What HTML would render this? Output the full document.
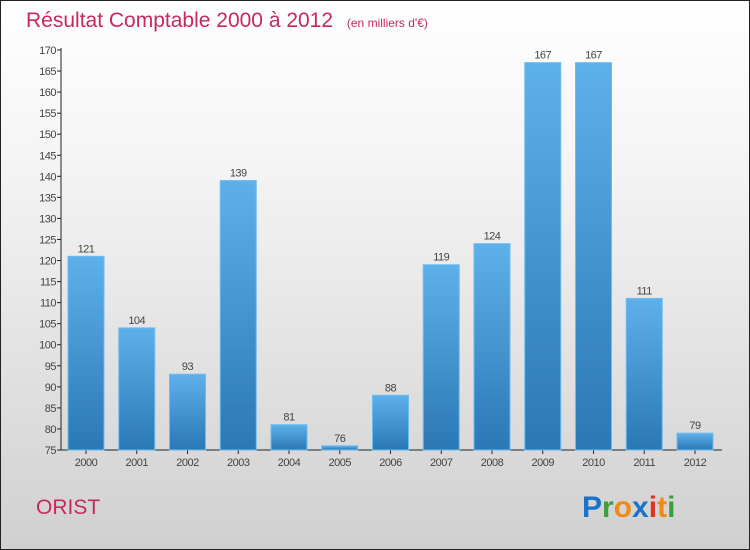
<!DOCTYPE html>
<html><head><meta charset="utf-8"><style>
body{margin:0;width:750px;height:550px;overflow:hidden;font-family:"Liberation Sans","DejaVu Sans",sans-serif}
#wrap{position:absolute;left:0;top:0;width:748px;height:548px;border:1px solid #222;background:linear-gradient(#ffffff,#f4f4f4 30%,#d0d0d0)}
</style></head><body>
<div id="wrap">
<svg width="750" height="550" style="position:absolute;left:-1px;top:-1px">
<defs><linearGradient id="bg" x1="0" y1="0" x2="0" y2="1"><stop offset="0" stop-color="#5eb0ea"/><stop offset="1" stop-color="#2a78b6"/></linearGradient></defs>
<text x="26" y="27" font-size="21" fill="#c8285a">Résultat Comptable 2000 à 2012 <tspan font-size="12" dx="8">(en milliers d'€)</tspan></text>
<g id="axes"></g><g id="bars"></g>
<text x="36" y="514" font-size="21" fill="#c8285a">ORIST</text>
<g font-size="30" font-weight="bold" font-family="Liberation Sans, sans-serif">
<text x="582" y="517"><tspan fill="#1a73c9">P</tspan><tspan fill="#3aa03a">r</tspan><tspan fill="#f08a10">o</tspan><tspan fill="#1a73c9">x</tspan><tspan fill="#e03020">i</tspan><tspan fill="#f08a10">t</tspan><tspan fill="#3aa03a">i</tspan></text>
</g>
</svg></div>
<script>
const years=["2000","2001","2002","2003","2004","2005","2006","2007","2008","2009","2010","2011","2012"];
const values=[121,104,93,139,81,76,88,119,124,167,167,111,79];
const yTicks=[75,80,85,90,95,100,105,110,115,120,125,130,135,140,145,150,155,160,165,170];
const NS="http://www.w3.org/2000/svg";
const y0=450,y1=50,vmin=75,vmax=170;
function yS(v){return y0-(v-vmin)/(vmax-vmin)*(y0-y1);}
function xS(i){return 86+i*50.75;}
function mk(t,a,p){const e=document.createElementNS(NS,t);for(const k in a)e.setAttribute(k,a[k]);p.appendChild(e);return e;}
const ax=document.getElementById('axes'),bs=document.getElementById('bars');
const yl=mk('line',{x1:61,y1:48,x2:61,y2:450,stroke:'#222'},ax);


const xl=mk('line',{x1:61,y1:450,x2:722,y2:450,stroke:'#222'},ax);


yTicks.forEach(v=>{const y=yS(v);
mk('line',{x1:57,y1:y,x2:61,y2:y,stroke:'#222'},ax);
const t=mk('text',{x:56,y:y+4,'font-size':11,fill:'#444','text-anchor':'end','letter-spacing':'-0.5'},ax);t.textContent=v;

});
years.forEach((yr,i)=>{const x=xS(i),v=values[i],top=yS(v);
const r=mk('rect',{x:x-18,y:top,width:36,height:y0-top,fill:'url(#bg)',stroke:'#6cbcf0','stroke-width':1},bs);


const l=mk('text',{x:x,y:top-4,'font-size':11,fill:'#444','text-anchor':'middle','letter-spacing':'-0.5'},bs);l.textContent=v;


mk('line',{x1:x,y1:450,x2:x,y2:454,stroke:'#222'},ax);
const t=mk('text',{x:x,y:466,'font-size':11,fill:'#444','text-anchor':'middle','letter-spacing':'-0.5'},ax);t.textContent=yr;

});
</script></body></html>
